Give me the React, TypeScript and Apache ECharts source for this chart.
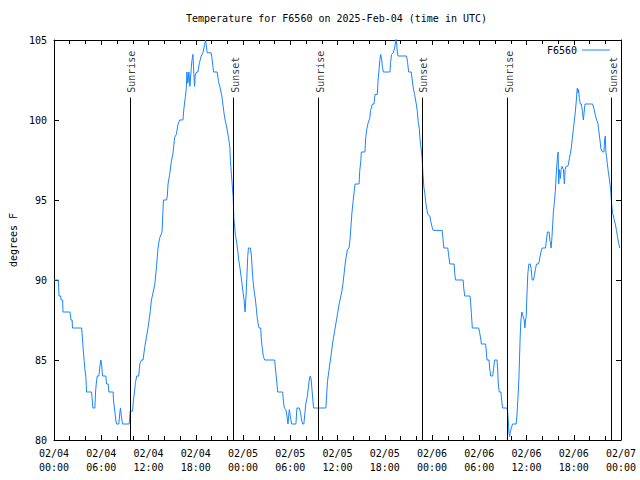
import React, { useEffect, useRef } from "react";
import * as echarts from "echarts";

// Hours since 2025-02-04 00:00 UTC and temperature (°F)
const day1Hours = [0, 0.55, 0.64, 0.85, 0.9, 1.1, 1.14, 2.03, 2.16, 2.3, 2.35, 3.51, 3.59, 3.72, 3.84, 3.93, 4.05, 4.1, 4.14, 4.77, 4.86, 4.94, 5.19, 5.28, 5.36, 5.49, 5.7, 5.75, 5.87, 5.95, 6.04, 6.16, 6.59, 6.67, 6.88, 6.97, 7.51, 7.55, 7.72, 7.85, 7.94, 8.23, 8.36, 8.44, 8.55, 8.7, 9.54, 9.6, 9.67, 9.96, 10.0, 10.09, 10.22, 10.34, 10.51, 10.76, 10.89, 11.1, 11.31, 11.52, 11.73, 11.94, 12.11, 12.24, 12.37, 12.49, 12.79, 13.0, 13.21, 13.4, 13.72, 13.85, 13.9, 14.3, 14.4, 14.48, 14.69, 14.9, 15.1, 15.32, 15.53, 15.74, 15.95, 16.37, 16.5, 16.67, 16.8, 16.88, 17.0, 17.13, 17.26, 17.43, 17.51, 17.64, 17.72, 17.85, 17.94, 18.1, 18.27, 18.48, 18.7, 18.91, 19.12, 19.24, 19.33, 19.45, 19.96, 20.05, 20.26, 20.72, 20.89, 21.1, 21.31, 21.44, 21.57, 21.73, 21.95, 22.16, 22.33, 22.41, 22.53, 22.66, 22.75, 22.79, 22.83, 23.04, 23.21, 23.34, 23.46, 23.63, 23.76, 23.89];
const day1Temps = [90, 90, 89, 89, 88.75, 88.75, 88, 88, 87.5, 87.5, 87, 87, 86.5, 85.6, 84.9, 84.4, 83.9, 83.4, 83, 83, 82.5, 82, 82, 83, 83.5, 84, 84, 84.25, 84.75, 85, 84.75, 84, 84, 83.5, 83.5, 83, 83, 82.5, 81.8, 81.25, 81, 81, 81.7, 82, 81.5, 81, 81, 81.3, 81.8, 81.8, 82, 82.5, 83, 83.6, 84, 84, 84.75, 85, 85, 85.8, 86.4, 87, 87.6, 88.1, 88.75, 89, 89.7, 90.75, 92, 92.6, 93, 94.5, 95, 95, 95.3, 96, 96.6, 97.4, 97.9, 98.9, 99.1, 99.7, 100, 100, 100.75, 101.4, 102, 103, 102.3, 103, 102.1, 103.25, 103.7, 104.1, 103.25, 102.1, 102.8, 103, 103, 103.6, 104, 104.2, 104.7, 105, 104.7, 104.2, 104.2, 103.9, 103, 103, 102.4, 102, 101.5, 101, 100.5, 100, 99.5, 98.9, 98.3, 97.4, 96.6, 95.75, 95.2, 94.6, 93.9, 92.8, 92.3, 91.8, 91.25, 90.7, 90.2, 89.7];

const day2Hours = [24.01, 24.14, 24.26, 24.39, 24.52, 24.6, 24.69, 24.94, 25.07, 25.19, 25.32, 25.45, 25.58, 25.7, 25.79, 25.91, 26.04, 26.25, 26.33, 26.46, 26.59, 26.76, 28.02, 28.15, 28.27, 28.4, 29.03, 29.12, 29.24, 29.45, 29.58, 29.71, 29.88, 30.0, 30.17, 30.72, 30.85, 31.14, 31.31, 31.44, 31.57, 31.73, 31.86, 31.99, 32.16, 32.28, 32.41, 32.54, 32.66, 32.75, 32.87, 32.96, 34.52, 34.65, 34.73, 34.9, 35.07, 35.24, 35.36, 35.53, 35.7, 35.87, 36.04, 36.21, 36.43, 36.55, 36.67, 36.84, 36.97, 37.09, 37.26, 37.47, 37.6, 37.73, 37.85, 37.98, 38.11, 38.23, 38.74, 38.82, 38.95, 39.03, 39.49, 39.58, 39.71, 39.88, 40.09, 40.21, 40.43, 40.64, 40.76, 41.06, 41.14, 41.27, 41.39, 41.48, 41.61, 41.69, 41.82, 42.66, 42.74, 42.87, 43.08, 43.25, 43.38, 43.46, 43.55, 43.68, 44.77, 44.9, 45.03, 45.36, 45.49, 45.62, 45.79, 46.0, 46.12, 46.25, 46.38, 46.46, 46.54, 46.67, 46.76, 46.84, 46.97, 47.09, 47.22, 47.35, 47.47, 47.73, 47.85];
const day2Temps = [89.2, 88.75, 88, 89.06, 90.5, 91.46, 92, 92, 91.5, 90.5, 89.7, 89.2, 88.75, 88.2, 87.7, 87.3, 87, 87, 86.25, 85.7, 85.2, 85, 85, 84.3, 83.75, 83, 83, 82.5, 82, 81.9, 81.5, 81, 81.9, 81.5, 81, 81, 82, 82, 81.7, 81.25, 81, 81, 81.7, 82.3, 82.7, 83.2, 83.75, 84, 83.75, 83.2, 82.5, 82, 82, 83, 83.67, 84.3, 84.9, 85.5, 86, 86.5, 87, 87.5, 88, 88.5, 89, 89.3, 89.7, 90.4, 91, 91.4, 91.9, 92, 92.6, 93.5, 94.3, 94.9, 95.5, 96, 96, 96.8, 97.4, 98, 98, 98.9, 99.4, 99.8, 100.1, 100.6, 101, 101, 101.6, 101.6, 102.4, 103.1, 103.8, 104.1, 103.8, 103.35, 103, 103, 103.6, 104.1, 104.2, 104.5, 104.9, 105.1, 104.5, 104, 104, 103.6, 103, 103, 102.5, 102, 101.6, 101, 100.6, 99.9, 99.5, 98.9, 98.5, 98, 97.5, 96.7, 95.8, 95.4, 94.8, 94.4, 94.1, 94, 93.65];

const day3Hours = [48.02, 48.15, 49.29, 49.41, 49.5, 50.0, 50.13, 50.26, 50.81, 50.89, 50.98, 51.95, 52.03, 52.15, 52.83, 52.92, 53.0, 53.12, 53.93, 54.05, 54.22, 54.26, 54.81, 54.9, 54.98, 55.24, 55.32, 55.45, 55.7, 55.83, 55.95, 56.25, 56.33, 56.42, 56.54, 56.75, 56.84, 56.97, 57.51, 57.6, 57.68, 57.77, 57.85, 57.94, 58.1, 58.23, 58.69, 58.78, 58.9, 59.03, 59.12, 59.2, 59.29, 59.41, 59.58, 59.71, 59.79, 59.88, 59.96, 60.05, 60.17, 60.3, 60.47, 60.59, 60.72, 60.89, 61.01, 61.14, 61.27, 61.52, 61.61, 61.73, 61.86, 61.99, 62.41, 62.53, 62.66, 62.87, 62.96, 63.04, 63.12, 63.21, 63.33, 63.42, 63.55, 63.67, 63.76, 63.84, 63.93, 64.01, 64.09, 64.18, 64.31, 64.39, 64.52, 64.69, 64.81, 64.9, 65.02, 65.19, 65.32, 65.44, 65.57, 65.7, 65.82, 65.95, 66.08, 66.2, 66.33, 66.41, 66.46, 66.54, 66.62, 66.71, 66.84, 66.96, 67.09, 67.22, 67.3, 67.43, 68.4, 68.57, 68.74, 68.91, 69.07, 69.16, 69.33, 69.45, 69.66, 69.83, 69.92, 70.0, 70.08, 70.17, 70.25, 70.38, 70.51, 70.63, 70.72, 70.8, 70.93, 71.1, 71.27, 71.43, 71.56, 71.69, 71.85];
const day3Temps = [93.3, 93.1, 93.1, 92.5, 92, 92, 91.5, 91, 91, 90.4, 90, 90, 89.5, 89, 89, 88.5, 87.9, 87, 87, 86.7, 86.25, 86, 86, 85.5, 85, 85, 84.5, 84, 84, 84.5, 85, 85, 84.5, 83.5, 83, 83, 82.5, 82, 82, 81.8, 81.25, 80.5, 80.2, 80.5, 80.8, 81, 81, 81.5, 82.5, 83.75, 85.2, 86.5, 87.5, 88, 87.7, 87.5, 87, 87.5, 87.7, 89, 90.4, 91, 91, 90.7, 90, 90, 90.3, 90.7, 91, 91, 91.15, 91.5, 91.8, 92, 92, 92.5, 93, 93, 92.5, 92.3, 92, 92.5, 93.5, 94.3, 94.9, 95.6, 96.5, 97.1, 97.6, 98, 96, 96.9, 96.35, 96.9, 97.1, 96.9, 96, 96.9, 97.1, 97.1, 97.2, 97.6, 97.9, 98.3, 98.85, 99.4, 100, 100.5, 101.25, 101.8, 102, 101.7, 101.9, 101.35, 101, 101, 100.6, 100, 100.4, 101, 101, 100.7, 100.3, 100, 99.8, 99.4, 98.75, 98.2, 98, 98, 98.75, 99, 98, 97.7, 97.3, 96.8, 96.35, 95.9, 95.4, 94.8, 94.2, 93.85, 93.5, 93.1, 92.7, 92.3, 92];

// Sunrise / sunset times (hours since 02/04 00:00 UTC)
const sunTimes = [9.62, 22.78, 33.54, 46.71, 57.59, 70.76];
const sunLabels = ["Sunrise", "Sunset", "Sunrise", "Sunset", "Sunrise", "Sunset"];

const dayLabels = ["02/04", "02/05", "02/06", "02/07"];
const stationName = "F6560";
const titleText = "Temperature for F6560 on 2025-Feb-04 (time in UTC)";
const yTitle = "degrees F";

const FONT = "DejaVu Sans Mono";
const BLUE = "#1a84ff";

export default function App() {
  const ref = useRef<HTMLDivElement>(null);
  useEffect(() => {
    if (!ref.current) return;
    const chart = echarts.init(ref.current, undefined, { renderer: "svg" });
    const hours = [...day1Hours, ...day2Hours, ...day3Hours];
    const temps = [...day1Temps, ...day2Temps, ...day3Temps];
    const data = hours.map((h, i) => [h, temps[i]]);
    const lineTop = 101.4;
    const labelBase = 101.7;
    const pad = (n: number) => (n < 10 ? "0" + n : "" + n);
    const fmt = (v: number) => {
      const d = Math.floor(v / 24 + 1e-6);
      const hr = Math.round(v - d * 24);
      return dayLabels[d] + "\n" + pad(hr) + ":00";
    };
    const xBase = {
      type: "value",
      min: 0,
      max: 72,
      interval: 6,
      splitLine: { show: false },
      axisLine: { show: true, onZero: false, lineStyle: { color: "#000", width: 1 } },
      axisTick: { show: true, inside: true, length: 5, lineStyle: { color: "#000" } },
      minorTick: { show: true, splitNumber: 3, length: 4, lineStyle: { color: "#000" } },
      minorSplitLine: { show: false },
    };
    const yBase = {
      type: "value",
      min: 80,
      max: 105,
      interval: 5,
      splitLine: { show: false },
      axisLine: { show: true, onZero: false, lineStyle: { color: "#000", width: 1 } },
      axisTick: { show: true, inside: true, length: 5, lineStyle: { color: "#000" } },
    };
    chart.setOption({
      animation: false,
      backgroundColor: "#fff",
      textStyle: { fontFamily: FONT },
      title: {
        text: titleText,
        left: 186,
        top: 13,
        padding: 0,
        textStyle: { fontFamily: FONT, fontSize: 10, fontWeight: "normal", color: "#000" },
      },
      legend: {
        data: [{ name: stationName, icon: "rect" }],
        right: 30,
        top: 45,
        padding: 0,
        align: "right",
        itemWidth: 28,
        itemHeight: 1,
        itemStyle: { color: BLUE, borderWidth: 0 },
        textStyle: { fontFamily: FONT, fontSize: 10, color: "#000" },
      },
      grid: { left: 52, right: 19, top: 40, bottom: 40, containLabel: false },
      xAxis: [
        {
          ...xBase,
          position: "bottom",
          axisLabel: {
            show: true,
            formatter: fmt,
            fontFamily: FONT,
            fontSize: 10,
            color: "#000",
            lineHeight: 14,
            margin: 6,
          },
        },
        { ...xBase, position: "top", axisLabel: { show: false } },
      ],
      yAxis: [
        {
          ...yBase,
          position: "left",
          name: yTitle,
          nameLocation: "middle",
          nameRotate: 90,
          nameGap: 36,
          nameTextStyle: { fontFamily: FONT, fontSize: 10, color: "#000" },
          axisLabel: { show: true, fontFamily: FONT, fontSize: 10, color: "#000", margin: 7 },
        },
        { ...yBase, position: "right", axisLabel: { show: false } },
      ],
      series: [
        {
          name: stationName,
          type: "line",
          data,
          symbol: "none",
          showSymbol: false,
          lineStyle: { color: BLUE, width: 1 },
          itemStyle: { color: BLUE },
          z: 3,
        },
        {
          name: "sun",
          type: "scatter",
          data: sunTimes.map((t) => [t, labelBase]),
          symbol: "circle",
          symbolSize: 1,
          itemStyle: { color: "rgba(0,0,0,0)" },
          silent: true,
          z: 2,
          label: {
            show: true,
            position: "inside",
            rotate: 90,
            align: "left",
            verticalAlign: "middle",
            offset: [0, 2],
            formatter: (p: any) => sunLabels[p.dataIndex],
            fontFamily: FONT,
            fontSize: 10,
            color: "#000",
          },
          markLine: {
            silent: true,
            symbol: ["none", "none"],
            label: { show: false },
            lineStyle: { color: "#000", width: 1, type: "solid" },
            data: sunTimes.map((t) => [{ coord: [t, 80] }, { coord: [t, lineTop] }]),
          },
        },
      ],
    });
    return () => chart.dispose();
  }, []);
  return (
    <div
      ref={ref}
      style={{ position: "absolute", left: 0, top: 0, width: 640, height: 480 }}
    />
  );
}
